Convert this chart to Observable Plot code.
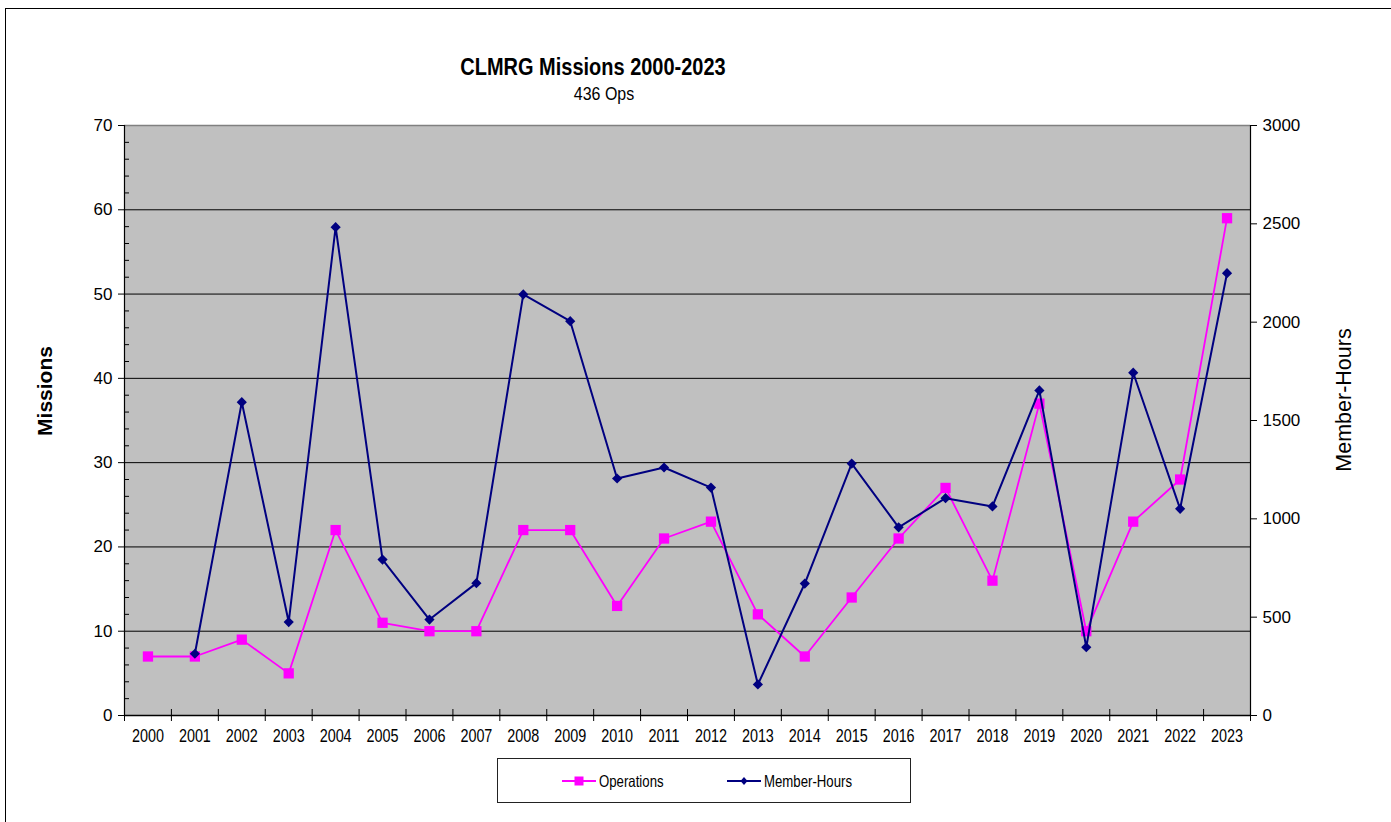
<!DOCTYPE html>
<html>
<head>
<meta charset="utf-8">
<script src="https://cdn.jsdelivr.net/npm/d3@7"></script>
<script src="https://cdn.jsdelivr.net/npm/@observablehq/plot@0.6"></script>
<style>
  html, body { margin: 0; padding: 0; background: #fff; }
  #wrap { position: relative; width: 1391px; height: 822px; overflow: hidden; font-family: "Liberation Sans", Arial, sans-serif; }
  #wrap svg.plot { position: absolute; left: 0; top: 0; }
  .abs { position: absolute; white-space: nowrap; color: #000; }
</style>
</head>
<body>
<div id="wrap">
  <div class="abs" style="left:5px; top:8px; width:1500px; height:900px; border-left:1.5px solid #000; border-top:1.5px solid #000;"></div>
  <div id="chart"></div>
  <div class="abs" id="title" style="left:593px; top:54px; transform:translateX(-50%) scaleX(0.85); font-size:23.5px; font-weight:bold;"></div>
  <div class="abs" id="subtitle" style="left:604px; top:83px; transform:translateX(-50%) scaleX(0.84); font-size:19px;"></div>
  <div class="abs" id="ylabelL" style="left:45px; top:391px; transform:translate(-50%,-50%) rotate(-90deg); font-size:21px; font-weight:bold;"></div>
  <div class="abs" id="ylabelR" style="left:1344px; top:400px; transform:translate(-50%,-50%) rotate(-90deg); font-size:21.5px;"></div>
  <div class="abs" id="legend" style="left:497px; top:758px; width:412px; height:43px; border:1px solid #222; background:#fff;"></div>
</div>
<script>
// ---- data ----
const years = [2000, 2001, 2002, 2003, 2004, 2005, 2006, 2007, 2008, 2009, 2010, 2011,
               2012, 2013, 2014, 2015, 2016, 2017, 2018, 2019, 2020, 2021, 2022, 2023];
const operations = [7, 7, 9, 5, 22, 11, 10, 10, 22, 22, 13, 21,
                    23, 12, 7, 14, 21, 27, 16, 37, 10, 23, 28, 59];
const memberHours = [null, 314, 1593, 475, 2483, 793, 488, 673, 2141, 2005, 1205, 1261,
                     1159, 158, 671, 1281, 957, 1105, 1063, 1653, 347, 1743, 1051, 2249];
const leftTicks = [0, 10, 20, 30, 40, 50, 60, 70];
const rightTicks = [0, 500, 1000, 1500, 2000, 2500, 3000];
const seriesNames = ["Operations", "Member-Hours"];
const seriesColors = ["#FF00FF", "#000080"];
const titleText = "CLMRG Missions 2000-2023";
const subtitleText = "436 Ops";
const leftLabel = "Missions";
const rightLabel = "Member-Hours";

// ---- derived ----
const leftMax = leftTicks[leftTicks.length - 1];
const rightMax = rightTicks[rightTicks.length - 1];
const toLeft = v => v * leftMax / rightMax;
const opsData = years.map((yr, i) => ({year: yr, value: operations[i]}));
const mhData = years.map((yr, i) => ({year: yr, value: memberHours[i] == null ? null : toLeft(memberHours[i])}));
const xmin = years[0] - 0.5, xmax = years[years.length - 1] + 0.5;
const bounds = years.map(y => y - 0.5).concat([xmax]);
const minorTicks = d3.range(0, leftMax, 2).filter(v => v % 10 !== 0);
const regular = "'Liberation Sans', Arial, sans-serif";

const chart = Plot.plot({
  width: 1391,
  height: 822,
  marginLeft: 124,
  marginRight: 141,
  marginTop: 125,
  marginBottom: 107,
  style: {background: "transparent", fontFamily: regular, color: "#000"},
  x: {type: "linear", domain: [xmin, xmax]},
  y: {type: "linear", domain: [0, leftMax]},
  marks: [
    Plot.frame({fill: "#C0C0C0", stroke: "none"}),
    Plot.ruleY([leftMax], {stroke: "#808080", strokeWidth: 1.5}),
    Plot.ruleY(leftTicks.filter(v => v > 0 && v < leftMax), {stroke: "#000", strokeWidth: 1}),
    Plot.ruleY(minorTicks, {x1: xmin, x2: xmin, insetRight: -5, stroke: "#000"}),
    Plot.ruleX([xmin], {stroke: "#000", strokeWidth: 1.2}),
    Plot.ruleX([xmax], {stroke: "#000", strokeWidth: 1.2}),
    Plot.ruleY([0], {stroke: "#000", strokeWidth: 1.5}),
    Plot.ruleX(bounds, {y1: 0, y2: 0, insetTop: -6, insetBottom: -6, stroke: "#000"}),
    Plot.axisY({ticks: leftTicks, tickSize: 6, tickPadding: 6, fontSize: 17, label: null, tickFormat: d => String(d)}),
    Plot.axisY({anchor: "right", ticks: rightTicks.map(toLeft), tickSize: 6, tickPadding: 6, fontSize: 17, label: null,
                tickFormat: d => String(Math.round(d * rightMax / leftMax))}),
    Plot.axisX({ticks: years, tickSize: 0, tickPadding: 14, fontSize: 18, label: null,
                tickFormat: d => String(d)}),
    Plot.line(opsData, {x: "year", y: "value", stroke: seriesColors[0], strokeWidth: 1.8}),
    Plot.dot(opsData, {x: "year", y: "value", symbol: "square", r: 5.8, fill: seriesColors[0], stroke: "none"}),
    Plot.line(mhData.filter(d => d.value != null), {x: "year", y: "value", stroke: seriesColors[1], strokeWidth: 2}),
    Plot.dot(mhData.filter(d => d.value != null), {x: "year", y: "value", symbol: "diamond2", r: 4.6, fill: seriesColors[1], stroke: "none"})
  ]
});
chart.classList.add("plot");
document.getElementById("chart").appendChild(chart);

// condense the year labels horizontally (narrow face look)
chart.querySelectorAll('g[aria-label="x-axis tick label"] text').forEach(t => {
  const tr = t.getAttribute("transform") || "";
  t.setAttribute("transform", tr + " scale(0.8,1)");
});

document.getElementById("title").textContent = titleText;
document.getElementById("subtitle").textContent = subtitleText;
document.getElementById("ylabelL").textContent = leftLabel;
document.getElementById("ylabelR").textContent = rightLabel;

// legend
const legend = document.getElementById("legend");
const legendItems = [
  {name: seriesNames[0], color: seriesColors[0], shape: "square", left: 64},
  {name: seriesNames[1], color: seriesColors[1], shape: "diamond", left: 229}
];
legendItems.forEach(it => {
  const ns = "http://www.w3.org/2000/svg";
  const svg = document.createElementNS(ns, "svg");
  svg.setAttribute("width", 34); svg.setAttribute("height", 14);
  svg.style.position = "absolute"; svg.style.left = it.left + "px"; svg.style.top = "15px";
  const ln = document.createElementNS(ns, "line");
  ln.setAttribute("x1", 0); ln.setAttribute("x2", 34); ln.setAttribute("y1", 7); ln.setAttribute("y2", 7);
  ln.setAttribute("stroke", it.color); ln.setAttribute("stroke-width", 2);
  svg.appendChild(ln);
  const m = document.createElementNS(ns, "path");
  m.setAttribute("d", it.shape === "square" ? "M12.5,2.5h9v9h-9z" : "M17,3L20.5,7L17,11L13.5,7z");
  m.setAttribute("fill", it.color);
  svg.appendChild(m);
  legend.appendChild(svg);
  const t = document.createElement("div");
  t.className = "abs";
  t.style.left = (it.left + 37) + "px"; t.style.top = "13px"; t.style.fontSize = "16.5px";
  t.style.transform = "scaleX(0.8)"; t.style.transformOrigin = "0 0";
  t.textContent = it.name;
  legend.appendChild(t);
});
</script>
</body>
</html>
